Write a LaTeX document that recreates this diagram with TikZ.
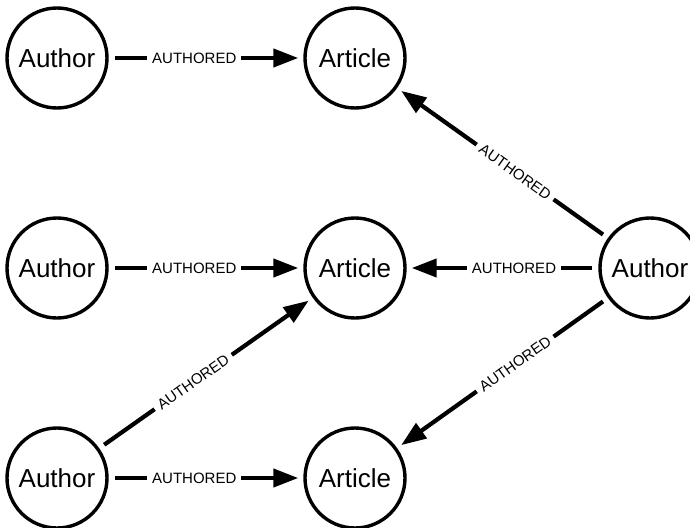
\documentclass[tikz,border=0pt]{standalone}
\usepackage{fontspec}
\setmainfont{Liberation Sans}
\usetikzlibrary{arrows.meta}
\begin{document}
\begin{tikzpicture}[x=1pt,y=-1pt,
  entity/.style={circle,draw,line width=3.4pt,minimum size=100pt,inner sep=0pt,
    font=\fontsize{26}{30}\selectfont},
  rel/.style={line width=4.2pt,-{Triangle[length=25pt,width=18pt]},
    shorten >=5pt,shorten <=6pt},
  rellabel/.style={fill=white,inner xsep=5pt,inner ysep=2pt,
    font=\fontsize{15}{17}\selectfont,pos=0.44}]
\useasboundingbox (0,0) rectangle (690,527);
\clip (0,0) rectangle (690,527);
% authors
\node[entity] (a1) at (57,58)  {Author};
\node[entity] (a2) at (57,268) {Author};
\node[entity] (a3) at (57,478) {Author};
\node[entity] (a4) at (650,268) {Author};
% articles
\node[entity] (p1) at (355,58)  {Article};
\node[entity] (p2) at (355,268) {Article};
\node[entity] (p3) at (355,478) {Article};
% authorship relations
\draw[rel] (a1) -- node[rellabel] {AUTHORED} (p1);
\draw[rel] (a2) -- node[rellabel] {AUTHORED} (p2);
\draw[rel] (a3) -- node[rellabel] {AUTHORED} (p3);
\draw[rel] (a3) -- node[rellabel,sloped] {AUTHORED} (p2);
\draw[rel] (a4) -- node[rellabel,sloped] {AUTHORED} (p1);
\draw[rel] (a4) -- node[rellabel] {AUTHORED} (p2);
\draw[rel] (a4) -- node[rellabel,sloped] {AUTHORED} (p3);
\end{tikzpicture}
\end{document}
